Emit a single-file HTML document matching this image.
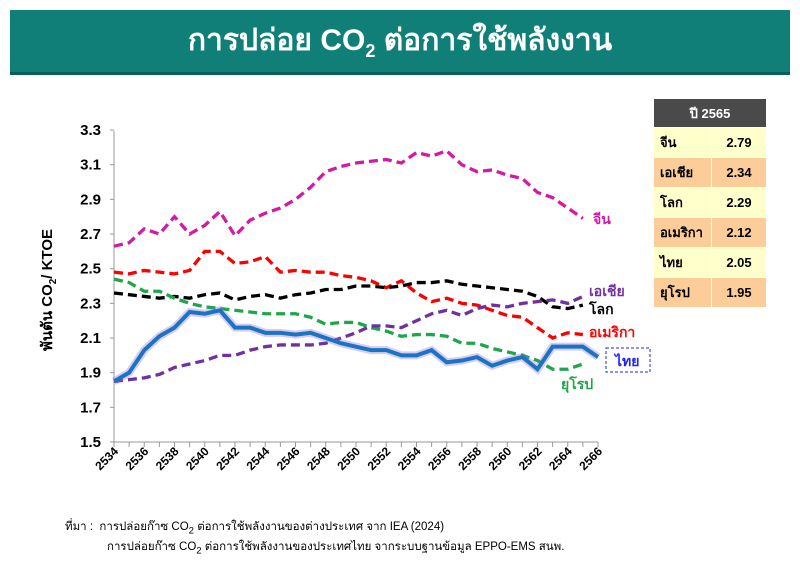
<!DOCTYPE html><html><head><meta charset="utf-8"><style>
body{margin:0;background:#fff;width:800px;height:567px;overflow:hidden;font-family:"Liberation Sans","DejaVu Sans",sans-serif;position:relative}
.hdr{position:absolute;left:10px;top:10px;width:780px;height:62px;background:#0f7f78;border-bottom:3px solid #0a5e59;color:#fff;font-weight:bold;font-size:30px;text-align:center;line-height:62px}
table{position:absolute;left:653px;top:98px;border-collapse:collapse;font-size:13px;font-weight:bold}
td{height:29px;border:1px solid #fff;padding:0 6px}
.note{position:absolute;font-size:11.5px;color:#000}
</style></head><body>
<div class="hdr">การปล่อย CO<sub style="font-size:18px">2</sub> ต่อการใช้พลังงาน</div>
<table>
<tr><td colspan="2" style="background:#4a4a4a;color:#fff;text-align:center;height:28px;width:100px">ปี 2565</td></tr>
<tr style="background:#ffffcc"><td style="width:45px">จีน</td><td style="text-align:center">2.79</td></tr>
<tr style="background:#fccc99"><td>เอเชีย</td><td style="text-align:center">2.34</td></tr>
<tr style="background:#ffffcc"><td>โลก</td><td style="text-align:center">2.29</td></tr>
<tr style="background:#fccc99"><td>อเมริกา</td><td style="text-align:center">2.12</td></tr>
<tr style="background:#ffffcc"><td>ไทย</td><td style="text-align:center">2.05</td></tr>
<tr style="background:#fccc99"><td>ยุโรป</td><td style="text-align:center">1.95</td></tr>
</table>
<svg id="s" width="800" height="567" style="position:absolute;left:0;top:0"></svg>
<div class="note" style="left:65px;top:518px">ที่มา :&nbsp; การปล่อยก๊าซ CO<sub>2</sub> ต่อการใช้พลังงานของต่างประเทศ จาก IEA (2024)</div>
<div class="note" style="left:107px;top:538px">การปล่อยก๊าซ CO<sub>2</sub> ต่อการใช้พลังงานของประเทศไทย จากระบบฐานข้อมูล EPPO-EMS สนพ.</div>
<script>
var X=i=>114+15.125*i, Y=v=>442-(v-1.5)*173.3;
var s='';
s+='<line x1="114" y1="131" x2="114" y2="442" stroke="#999"/><line x1="114" y1="442" x2="598" y2="442" stroke="#999"/>';
for(var k=0;k<=9;k++){var v=1.5+k*0.2,y=Y(v);s+='<line x1="110" y1="'+y+'" x2="114" y2="'+y+'" stroke="#999"/><text x="101" y="'+(y+5)+'" text-anchor="end" font-size="15" font-weight="bold">'+v.toFixed(1)+'</text>';}
for(var i=0;i<=32;i++){s+='<line x1="'+X(i)+'" y1="442" x2="'+X(i)+'" y2="447" stroke="#999"/>';if(i%2==0)s+='<text transform="translate('+(X(i)+5)+',452) rotate(-45)" text-anchor="end" font-size="12" font-weight="bold">'+(2534+i)+'</text>';}
s+='<text transform="translate(52,290) rotate(-90)" text-anchor="middle" font-size="15" font-weight="bold">พันตัน CO<tspan font-size="10" dy="4">2</tspan><tspan dy="-4">/ KTOE</tspan></text>';
function L(d,c,w,dash){var p=d.map((v,i)=>X(i)+','+Y(v)).join(' ');s+='<polyline points="'+p+'" fill="none" stroke="'+c+'" stroke-width="'+w+'"'+(dash?' stroke-dasharray="9,5"':'')+'/>';}
L([2.63,2.65,2.73,2.70,2.80,2.70,2.75,2.83,2.69,2.78,2.82,2.85,2.90,2.97,3.06,3.09,3.11,3.12,3.13,3.11,3.17,3.15,3.18,3.10,3.06,3.07,3.04,3.02,2.94,2.91,2.85,2.79],'#d31aa6',3.3,1);
L([2.48,2.47,2.49,2.48,2.47,2.49,2.60,2.60,2.53,2.54,2.57,2.48,2.49,2.48,2.48,2.46,2.45,2.43,2.39,2.43,2.36,2.31,2.33,2.30,2.29,2.26,2.23,2.22,2.16,2.10,2.13,2.12],'#f00',3.3,1);
L([2.36,2.35,2.34,2.33,2.34,2.33,2.35,2.36,2.32,2.34,2.35,2.33,2.35,2.36,2.38,2.38,2.40,2.40,2.39,2.40,2.42,2.42,2.43,2.41,2.40,2.39,2.38,2.37,2.34,2.28,2.27,2.29],'#000',3.3,1);
L([2.44,2.42,2.37,2.37,2.33,2.30,2.28,2.27,2.26,2.25,2.24,2.24,2.24,2.22,2.18,2.19,2.19,2.16,2.14,2.11,2.12,2.12,2.11,2.07,2.07,2.04,2.02,2.00,1.97,1.92,1.92,1.95],'#1fa54a',3.3,1);
L([1.85,1.86,1.87,1.89,1.93,1.95,1.97,2.00,2.00,2.03,2.05,2.06,2.06,2.06,2.07,2.10,2.13,2.17,2.17,2.16,2.20,2.24,2.26,2.23,2.27,2.29,2.28,2.30,2.31,2.32,2.30,2.34],'#7030a0',3.3,1);
var th=[1.85,1.90,2.03,2.11,2.16,2.25,2.24,2.26,2.16,2.16,2.13,2.13,2.12,2.13,2.10,2.07,2.05,2.03,2.03,2.00,2.00,2.03,1.96,1.97,1.99,1.94,1.97,1.99,1.92,2.05,2.05,2.05,1.99];
L(th,'rgba(150,110,200,0.35)',8,0);L(th,'#1a74c6',4,0);
function T(t,x,y,c){s+='<text x="'+x+'" y="'+y+'" fill="'+c+'" font-size="14" font-weight="bold">'+t+'</text>';}
T('จีน',593,224,'#d31aa6');T('เอเชีย',589,296,'#7030a0');T('โลก',589,314,'#000');T('อเมริกา',589,337,'#f00');T('ยุโรป',561,389,'#1fa54a');
s+='<rect x="606" y="348" width="44" height="24" fill="none" stroke="#2222ff" stroke-dasharray="3,2"/>';T('ไทย',615,366,'#2222ff');
document.getElementById('s').innerHTML=s;
</script>
</body></html>
